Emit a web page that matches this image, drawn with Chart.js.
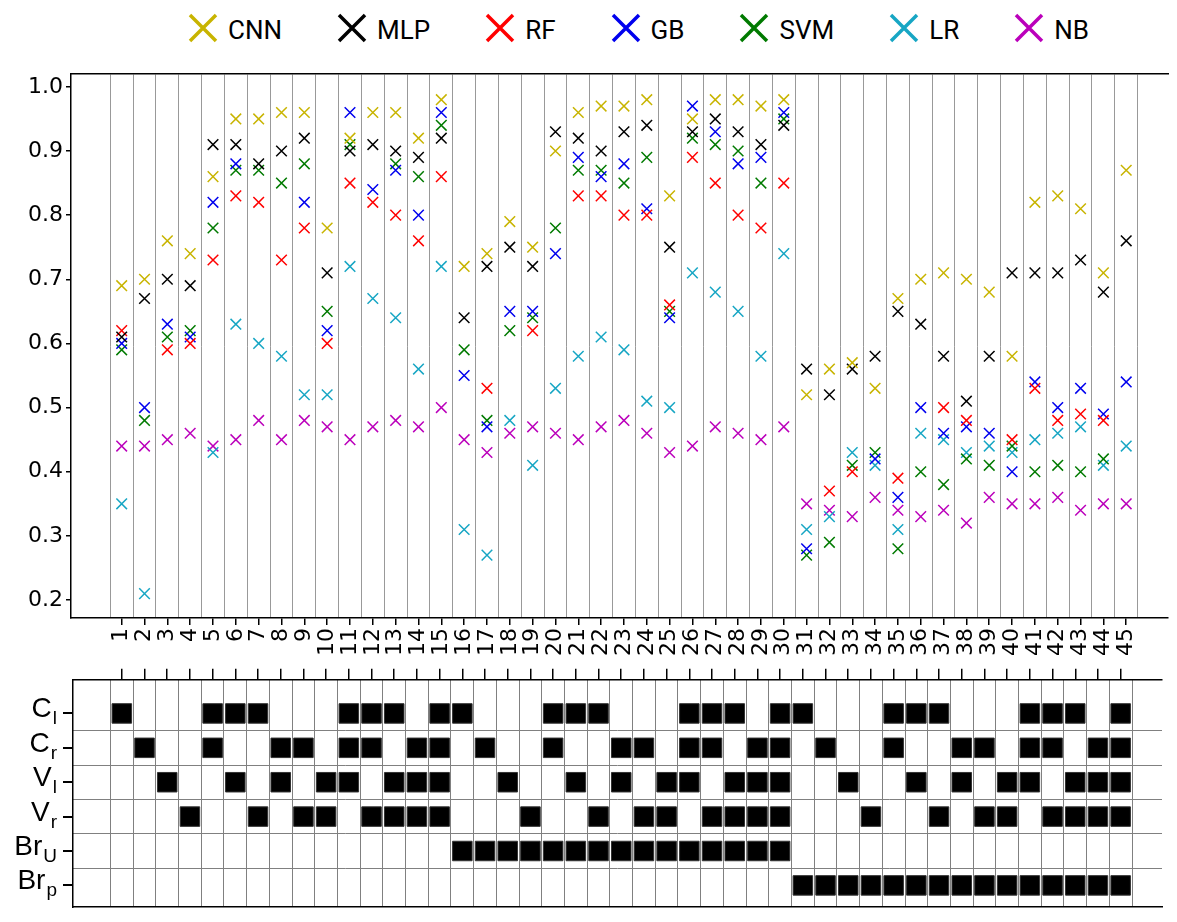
<!DOCTYPE html>
<html>
<head>
<meta charset="utf-8">
<script src="https://cdn.jsdelivr.net/npm/chart.js@4.4.1/dist/chart.umd.min.js"></script>
<style>
  body { margin: 0; background: #fff; width: 1177px; height: 922px; position: relative; overflow: hidden; }
  #legend { position: absolute; top: 13px; left: 188px; height: 30px; display: flex; align-items: center;
            font-family: "Liberation Sans Narrow", Roboto, "Liberation Sans", sans-serif; font-size: 26px; color: #000; }
  #legend .item { display: flex; align-items: center; margin-right: 55px; }
  #legend .item span { margin-left: 10px; margin-top: 3px; }
  #top { position: absolute; left: 0; top: 0; }
  #mat { position: absolute; left: 0; top: 665px; }
</style>
</head>
<body>
<div id="legend"></div>
<canvas id="top" width="1177" height="665"></canvas>
<canvas id="mat" width="1177" height="257"></canvas>
<script>
// categories / ticks
const cats = [1,2,3,4,5,6,7,8,9,10,11,12,13,14,15,16,17,18,19,20,21,22,23,24,25,26,27,28,29,30,31,32,33,34,35,36,37,38,39,40,41,42,43,44,45];
const yTicks = [0.2,0.3,0.4,0.5,0.6,0.7,0.8,0.9,1.0];
const names  = ["CNN","MLP","RF","GB","SVM","LR","NB"];
const colors = ["#c8b400","#000000","#ff0000","#0000ee","#007a00","#17a6c4","#bb00bb"];

// scores per category (null = marker hidden behind another one)
const cnn = [.69,.70,.76,.74,.86,.95,.95,.96,.96,.78,.92,.96,.96,.92,.98,.72,.74,.79,.75,.90,.96,.97,.97,.98,.83,.95,.98,.98,.97,.98,.52,.56,.57,.53,.67,.70,.71,.70,.68,.58,.82,.83,.81,.71,.87];
const mlp = [.61,.67,.70,.69,.91,.91,.88,.90,.92,.71,.90,.91,.90,.89,.92,.64,.72,.75,.72,.93,.92,.90,.93,.94,.75,.93,.95,.93,.91,.94,.56,.52,.56,.58,.65,.63,.58,.51,.58,.71,.71,.71,.73,.68,.76];
const rf  = [.62,null,.59,.60,.73,.83,.82,.73,.78,.60,.85,.82,.80,.76,.86,null,.53,null,.62,null,.83,.83,.80,.80,.66,.89,.85,.80,.78,.85,null,.37,.40,null,.39,null,.50,.48,null,.45,.53,.48,.49,.48,null];
const gb  = [.60,.50,.63,.61,.82,.88,null,null,.82,.62,.96,.84,.87,.80,.96,.55,.47,.65,.65,.74,.89,.86,.88,.81,.64,.97,.93,.88,.89,.96,.28,null,null,.42,.36,.50,.46,.47,.46,.40,.54,.50,.53,.49,.54];
const svm = [.59,.48,.61,.62,.78,.87,.87,.85,.88,.65,.91,null,.88,.86,.94,.59,.48,.62,.64,.78,.87,.87,.85,.89,.65,.92,.91,.90,.85,.95,.27,.29,.41,.43,.28,.40,.38,.42,.41,.44,.40,.41,.40,.42,null];
const lr  = [.35,.21,null,null,.43,.63,.60,.58,.52,.52,.72,.67,.64,.56,.72,.31,.27,.48,.41,.53,.58,.61,.59,.51,.50,.71,.68,.65,.58,.74,.31,.33,.43,.41,.31,.46,.45,.43,.44,.43,.45,.46,.47,.41,.44];
const nb  = [.44,.44,.45,.46,.44,.45,.48,.45,.48,.47,.45,.47,.48,.47,.50,.45,.43,.46,.47,.46,.45,.47,.48,.46,.43,.44,.47,.46,.45,.47,.35,.34,.33,.36,.34,.33,.34,.32,.36,.35,.35,.36,.34,.35,.35];
const series = [cnn, mlp, rf, gb, svm, lr, nb];

// matrix rows: label (main + subscript) and the categories that are filled
const rowMain = ["C","C","V","V","Br","Br"];
const rowSub  = ["l","r","l","r","U","p"];
const rowCl  = [1,5,6,7,11,12,13,15,16,20,21,22,26,27,28,30,31,35,36,37,41,42,43,45];
const rowCr  = [2,5,8,9,11,12,14,15,17,20,23,24,26,27,29,30,32,35,38,39,41,42,44,45];
const rowVl  = [3,6,8,10,11,13,14,15,18,21,23,25,26,28,29,30,33,36,38,40,41,43,44,45];
const rowVr  = [4,7,9,10,12,13,14,15,19,22,24,25,27,28,29,30,34,37,39,40,42,43,44,45];
const rowBrU = [16,17,18,19,20,21,22,23,24,25,26,27,28,29,30];
const rowBrP = [31,32,33,34,35,36,37,38,39,40,41,42,43,44,45];
const rows = [rowCl, rowCr, rowVl, rowVr, rowBrU, rowBrP];

// legend
const legend = document.getElementById("legend");
names.forEach((n, i) => {
  const d = document.createElement("div");
  d.className = "item";
  d.innerHTML = '<svg width="30" height="30"><path d="M2 2L28 28M28 2L2 28" stroke="' + colors[i] +
    '" stroke-width="3.5" fill="none"/></svg><span>' + n + '</span>';
  legend.appendChild(d);
});

const tickFont = { family: "DejaVu Sans", size: 22 };
const bounds = cats.map(c => c - 0.5).concat([cats[cats.length - 1] + 0.5]);

// scatter plot
new Chart(document.getElementById("top"), {
  type: "scatter",
  data: {
    datasets: series.map((s, i) => ({
      label: names[i],
      data: s.map((v, k) => ({ x: cats[k], y: v })),
      pointStyle: "crossRot",
      pointRadius: 7.5,
      borderWidth: 1.5,
      borderColor: colors[i],
      backgroundColor: colors[i]
    }))
  },
  options: {
    responsive: false,
    animation: false,
    events: [],
    layout: { padding: { top: 74, left: 0, right: 0, bottom: 0 } },
    plugins: { legend: { display: false }, tooltip: { enabled: false } },
    scales: {
      x: {
        type: "linear", position: "bottom", min: -1.22, max: 46.83,
        afterBuildTicks: s => { s.ticks = cats.map(v => ({ value: v })); },
        afterFit: s => { s.height = 47; },
        ticks: { autoSkip: false, minRotation: 90, maxRotation: 90, padding: 3,
                 font: tickFont, color: "#000", callback: v => String(v) },
        grid: { drawOnChartArea: false, tickLength: 7, color: "#000", lineWidth: 1.5 },
        border: { color: "#000", width: 1.5 }
      },
      xg: {
        type: "linear", position: "top", min: -1.22, max: 46.83,
        afterBuildTicks: s => { s.ticks = bounds.map(v => ({ value: v })); },
        afterFit: s => { s.height = 0; },
        ticks: { display: false },
        grid: { drawTicks: false, color: "#999", lineWidth: 1 },
        border: { color: "#000", width: 1.5 }
      },
      y: {
        min: 0.172, max: 1.02,
        afterBuildTicks: s => { s.ticks = yTicks.map(v => ({ value: v })); },
        afterFit: s => { s.width = 71; },
        ticks: { font: tickFont, color: "#000", padding: 3, callback: v => v.toFixed(1) },
        grid: { drawOnChartArea: false, tickLength: 5, color: "#000", lineWidth: 1.5 },
        border: { color: "#000", width: 1.5 }
      }
    }
  }
});

// row labels with subscripts
const rowLabels = {
  id: "rowLabels",
  afterDraw(chart) {
    const { ctx } = chart;
    const ys = chart.scales.y;
    const big = '28px "Liberation Sans", Arial, sans-serif';
    const small = '19px "Liberation Sans", Arial, sans-serif';
    ctx.save();
    ctx.fillStyle = "#000";
    ctx.textAlign = "left";
    ctx.textBaseline = "alphabetic";
    rowMain.forEach((m, i) => {
      const y = ys.getPixelForValue(i);
      ctx.font = big;
      const wm = ctx.measureText(m).width;
      ctx.font = small;
      const wsub = ctx.measureText(rowSub[i]).width;
      const x0 = 57 - wsub - 1 - wm;
      ctx.font = big;
      ctx.fillText(m, x0, y + 4);
      ctx.font = small;
      ctx.fillText(rowSub[i], x0 + wm + 1, y + 11);
    });
    ctx.restore();
  }
};

// matrix of filled squares
const cells = [];
rows.forEach((r, i) => r.forEach(c => cells.push({ x: c, y: i })));

new Chart(document.getElementById("mat"), {
  type: "scatter",
  data: {
    datasets: [{
      data: cells,
      pointStyle: "rect",
      pointRadius: 13.8,
      backgroundColor: "#000",
      borderColor: "#333",
      borderWidth: 1
    }]
  },
  options: {
    responsive: false,
    animation: false,
    events: [],
    layout: { padding: { top: 2, left: 0, right: 0, bottom: 2 } },
    plugins: { legend: { display: false }, tooltip: { enabled: false } },
    scales: {
      x: {
        type: "linear", position: "top", min: -1.151, max: 46.83,
        afterBuildTicks: s => { s.ticks = cats.map(v => ({ value: v })); },
        afterFit: s => { s.height = 11; },
        ticks: { display: false },
        grid: { drawOnChartArea: false, tickLength: 11, color: "#000", lineWidth: 1.5 },
        border: { color: "#000", width: 1.5 }
      },
      xg: {
        type: "linear", position: "bottom", min: -1.151, max: 46.83,
        afterBuildTicks: s => { s.ticks = bounds.map(v => ({ value: v })); },
        afterFit: s => { s.height = 0; },
        ticks: { display: false },
        grid: { drawTicks: false, color: "#808080", lineWidth: 1 },
        border: { color: "#000", width: 1.5 }
      },
      y: {
        type: "linear", reverse: true, min: -0.978, max: 5.634,
        afterBuildTicks: s => { s.ticks = rows.map((_, i) => ({ value: i })); },
        afterFit: s => { s.width = 73; },
        ticks: { display: false },
        grid: { drawOnChartArea: false, tickLength: 10, color: "#000", lineWidth: 2 },
        border: { color: "#000", width: 1.5 }
      },
      yg: {
        type: "linear", position: "right", reverse: true, min: -0.978, max: 5.634,
        afterBuildTicks: s => { s.ticks = rows.slice(1).map((_, i) => ({ value: i + 0.5 })); },
        afterFit: s => { s.width = 0; },
        ticks: { display: false },
        grid: { drawTicks: false, color: "#808080", lineWidth: 1 },
        border: { display: false }
      }
    }
  },
  plugins: [rowLabels]
});
</script>
</body>
</html>
